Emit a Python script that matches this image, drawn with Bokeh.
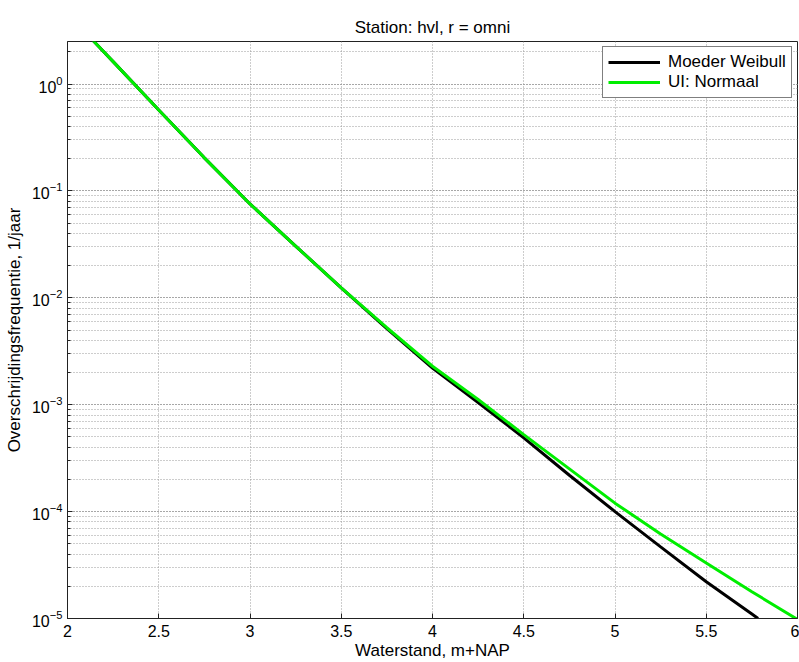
from bokeh.plotting import figure
from bokeh.models import FixedTicker, Legend, LegendItem, Range1d
from bokeh.embed import file_html
from bokeh.resources import INLINE

title_text = "Station: hvl, r = omni"
x_label = "Waterstand, m+NAP"
y_label = "Overschrijdingsfrequentie, 1/jaar"

x_ticks = [2, 2.5, 3, 3.5, 4, 4.5, 5, 5.5, 6]
x_tick_labels = ["2", "2.5", "3", "3.5", "4", "4.5", "5", "5.5", "6"]

series_names = ["Moeder Weibull", "UI: Normaal"]

weibull_x = [2.14, 2.25, 2.5, 2.75, 3.0, 3.25, 3.5, 3.75, 4.0, 4.25, 4.5,
             4.75, 5.0, 5.25, 5.5, 5.75, 5.784]
weibull_y = [2.55, 1.62, 0.572, 0.204, 0.0755, 0.0305, 0.0124, 5.15e-3,
             2.2e-3, 1.05e-3, 4.9e-4, 2.19e-4, 1.0e-4, 4.68e-5, 2.21e-5,
             1.10e-5, 1.0e-5]

normaal_x = [2.14, 2.25, 2.5, 2.75, 3.0, 3.25, 3.5, 3.75, 4.0, 4.25, 4.5,
             4.75, 5.0, 5.25, 5.5, 5.75, 6.0]
normaal_y = [2.55, 1.62, 0.572, 0.204, 0.0755, 0.0305, 0.0124, 5.25e-3,
             2.29e-3, 1.12e-3, 5.25e-4, 2.51e-4, 1.20e-4, 6.17e-5, 3.31e-5,
             1.78e-5, 9.8e-6]

FONT = "Liberation Sans"
GRID = "#9a9a9a"

p = figure(width=799, height=662, x_range=Range1d(2, 6),
           y_range=Range1d(1e-5, 2.5), y_axis_type="log",
           output_backend="svg", toolbar_location=None,
           min_border_left=67, min_border_right=2, min_border_top=41,
           min_border_bottom=44, title=title_text,
           background_fill_color="white", border_fill_color="white")

p.title.align = "center"
p.title.text_font = FONT
p.title.text_font_size = "17px"
p.title.text_font_style = "normal"
p.title.text_color = "black"
p.title.standoff = 10

p.outline_line_color = "#222222"
p.outline_line_width = 1

# grids
p.xgrid.ticker = FixedTicker(ticks=x_ticks)
p.xgrid.grid_line_color = GRID
p.xgrid.grid_line_dash = "1 2"
p.ygrid.grid_line_color = GRID
p.ygrid.grid_line_dash = "1 2"
p.ygrid.minor_grid_line_color = GRID
p.ygrid.minor_grid_line_dash = "1 2"

xa = p.xaxis[0]
xa.ticker = FixedTicker(ticks=x_ticks)
xa.major_label_overrides = dict(zip(x_ticks, x_tick_labels))
xa.axis_label = x_label
ya = p.yaxis[0]
ya.axis_label = y_label
for ax in (xa, ya):
    ax.axis_label_text_font = FONT
    ax.axis_label_text_font_size = "17px"
    ax.axis_label_text_font_style = "normal"
    ax.axis_label_text_color = "black"
    ax.major_label_text_font = FONT
    ax.major_label_text_font_size = "16px"
    ax.major_label_text_color = "black"
    ax.major_tick_in = 5
    ax.major_tick_out = 0
    ax.minor_tick_in = 3
    ax.minor_tick_out = 0
    ax.major_tick_line_color = "#222222"
    ax.minor_tick_line_color = "#222222"
    ax.axis_line_color = "#222222"
xa.minor_tick_line_color = None
xa.major_label_standoff = 6
xa.axis_label_standoff = 1
ya.major_label_standoff = 5
ya.axis_label_standoff = 5

r1 = p.line(weibull_x, weibull_y, line_color="black", line_width=3)
r2 = p.line(normaal_x, normaal_y, line_color="#00EE00", line_width=3)

legend = Legend(items=[LegendItem(label=series_names[0], renderers=[r1]),
                       LegendItem(label=series_names[1], renderers=[r2])],
                location=(535, 520))
legend.label_text_font = FONT
legend.label_text_font_size = "17px"
legend.label_text_color = "black"
legend.padding = 5
legend.spacing = 0
legend.margin = 0
legend.glyph_width = 52
legend.glyph_height = 20
legend.label_height = 20
legend.label_standoff = 8
legend.border_line_color = "black"
legend.border_line_width = 1
legend.background_fill_color = "white"
legend.background_fill_alpha = 1
p.add_layout(legend)

open("out.html", "w").write(file_html(p, INLINE))
